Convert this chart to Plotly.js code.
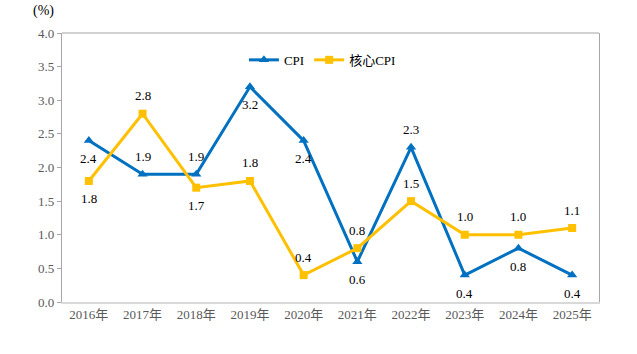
<!DOCTYPE html>
<html>
<head>
<meta charset="utf-8">
<script src="https://cdn.plot.ly/plotly-3.0.1.min.js"></script>
<style>html,body{margin:0;padding:0;background:#fff;}#chart{width:637px;height:354px;}</style>
</head>
<body>
<div id="chart"></div>
<script>
const years = ["2016年","2017年","2018年","2019年","2020年","2021年","2022年","2023年","2024年","2025年"];
const cpi = [2.4, 1.9, 1.9, 3.2, 2.4, 0.6, 2.3, 0.4, 0.8, 0.4];
const coreCpi = [1.8, 2.8, 1.7, 1.8, 0.4, 0.8, 1.5, 1.0, 1.0, 1.1];
// +1 = label above the point, -1 = label below
const cpiLabelSide = [-1, 1, 1, -1, -1, -1, 1, -1, -1, -1];
const coreLabelSide = [-1, 1, -1, 1, 1, 1, 1, 1, 1, 1];
const yTicks = [0, 0.5, 1.0, 1.5, 2.0, 2.5, 3.0, 3.5, 4.0];

const serif = "Liberation Serif, Noto Sans CJK SC, serif";

const traces = [
  {
    x: years, y: cpi, name: "CPI", type: "scatter", mode: "lines+markers",
    line: {color: "#0070C0", width: 3},
    marker: {symbol: "triangle-up", size: 9, color: "#0070C0"},
    cliponaxis: false
  },
  {
    x: years, y: coreCpi, name: "核心CPI", type: "scatter", mode: "lines+markers",
    line: {color: "#FFC000", width: 3},
    marker: {symbol: "square", size: 8, color: "#FFC000"},
    cliponaxis: false
  }
];

function labels(vals, sides) {
  return vals.map((v, i) => ({
    x: years[i], y: v, xref: "x", yref: "y", text: v.toFixed(1),
    showarrow: false, yshift: sides[i] * 18, xanchor: "center", yanchor: "middle",
    font: {family: serif, size: 13, color: "#000"}
  }));
}

const layout = {
  width: 637, height: 354,
  margin: {l: 62, r: 38, t: 33, b: 52},
  paper_bgcolor: "#fff", plot_bgcolor: "#fff",
  font: {family: serif, size: 13, color: "#595959"},
  showlegend: true,
  legend: {
    orientation: "h", x: 0.485, xanchor: "center", y: 0.9, yanchor: "middle",
    font: {family: serif, size: 13, color: "#000"}, bgcolor: "rgba(0,0,0,0)",
    itemwidth: 30, tracegroupgap: 0
  },
  xaxis: {
    type: "category", range: [-0.5, 9.5],
    showgrid: false, zeroline: false,
    showline: true, linecolor: "#D9D9D9", linewidth: 1.5,
    ticks: "", tickfont: {family: serif, size: 13, color: "#595959"},
    fixedrange: true
  },
  yaxis: {
    range: [0, 4.0], tickvals: yTicks, ticktext: yTicks.map(v => v.toFixed(1)),
    showgrid: false, zeroline: false,
    showline: true, mirror: true, linecolor: "#A6A6A6", linewidth: 1.2,
    ticks: "outside", ticklen: 4, tickcolor: "#A6A6A6",
    tickfont: {family: serif, size: 13, color: "#595959"},
    fixedrange: true
  },
  shapes: [
    {type: "line", xref: "paper", yref: "paper", x0: 0, x1: 1, y0: 1, y1: 1,
     line: {color: "#A6A6A6", width: 1.2}}
  ],
  annotations: [
    {text: "(%)", xref: "paper", yref: "paper", x: -0.035, y: 1.0, yshift: 22,
     xanchor: "center", yanchor: "middle", showarrow: false,
     font: {family: serif, size: 14, color: "#000"}}
  ].concat(labels(cpi, cpiLabelSide), labels(coreCpi, coreLabelSide))
};

Plotly.newPlot("chart", traces, layout, {displayModeBar: false, staticPlot: true});
</script>
</body>
</html>
